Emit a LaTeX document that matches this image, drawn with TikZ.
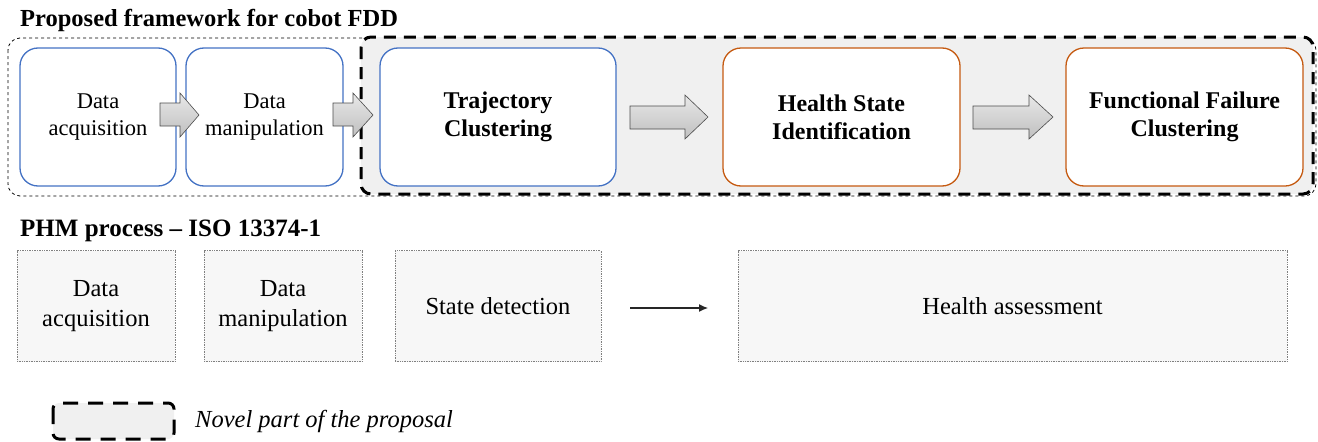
\documentclass[tikz,border=0pt]{standalone}
\usepackage{fontspec}
\setmainfont{Liberation Serif}
\usetikzlibrary{arrows.meta}
\definecolor{boxblue}{HTML}{4472C4}
\definecolor{boxorange}{HTML}{C55A11}
\definecolor{novelgray}{HTML}{F0F0F0}
\definecolor{phmgray}{HTML}{F7F7F7}
\tikzset{
  topbox/.style={draw=#1, line width=1.3pt, fill=white, rounded corners=18pt, align=center},
  normtxt/.style={font=\fontsize{22.5}{27}\selectfont},
  boldtxt/.style={font=\fontsize{24}{28}\selectfont\bfseries},
  blockarrow/.style={draw=gray!60!black, line width=0.6pt, top color=gray!18, bottom color=gray!50},
  phmbox/.style={draw=gray, densely dotted, line width=0.7pt, fill=phmgray, align=center, font=\fontsize{24.5}{30}\selectfont},
  novel/.style={draw=black, line width=3pt, dash pattern=on 12pt off 8pt, fill=novelgray, rounded corners=10pt},
}
\begin{document}
\begin{tikzpicture}[x=1pt,y=-1pt]
\useasboundingbox (0,0) rectangle (1318,442);
% title
\node[anchor=west, font=\fontsize{24.5}{28}\selectfont\bfseries, inner sep=0pt] (title) at (20,20) {Proposed framework for cobot FDD};
% thin dashed frame
\draw[dashed, line width=0.8pt, rounded corners=12pt] (8,38) rectangle (1316,196);
% novel region
\draw[novel] (361,37) rectangle (1313,194);
% top boxes
\node[topbox=boxblue, normtxt, minimum width=156pt, minimum height=138pt] (da) at (98,117) {Data\\acquisition};
\node[topbox=boxblue, normtxt, minimum width=157pt, minimum height=138pt] (dm) at (264.5,117) {Data\\manipulation};
\node[topbox=boxblue, boldtxt, minimum width=236pt, minimum height=138pt] (tc) at (498,117) {Trajectory\\Clustering};
\node[topbox=boxorange, boldtxt, minimum width=237pt, minimum height=138pt] (hs) at (841.5,117) {Health State\\Identification};
\node[topbox=boxorange, boldtxt, minimum width=237pt, minimum height=138pt] (ff) at (1184.5,117) {Functional Failure\\Clustering};
% block arrows
\draw[blockarrow] (160,103) -- (180,103) -- (180,93) -- (199,115) -- (180,137) -- (180,126) -- (160,126) -- cycle;
\draw[blockarrow] (333,103) -- (353,103) -- (353,93) -- (373,115) -- (353,137) -- (353,126) -- (333,126) -- cycle;
\draw[blockarrow] (630,106) -- (685,106) -- (685,95) -- (708,117) -- (685,139) -- (685,129) -- (630,129) -- cycle;
\draw[blockarrow] (973,106) -- (1029,106) -- (1029,95) -- (1053,117) -- (1029,139) -- (1029,129) -- (973,129) -- cycle;
% PHM
\node[anchor=west, font=\fontsize{25}{29}\selectfont\bfseries, inner sep=0pt] (phm) at (20,231) {PHM process -- ISO 13374-1};
\node[phmbox, minimum width=158pt, minimum height=111pt] (p1) at (96,306) {Data\\acquisition};
\node[phmbox, minimum width=158pt, minimum height=111pt] (p2) at (283,306) {Data\\manipulation};
\node[phmbox, minimum width=206pt, minimum height=111pt] (p3) at (498,306) {State detection};
\node[phmbox, minimum width=549pt, minimum height=111pt] (p4) at (1012.5,306) {Health assessment};
\coordinate (s) at (630,308);
\coordinate (e) at (708,308);
\draw[-{Latex[length=9pt,width=8pt]}, line width=1.2pt, draw=black!85] (s) -- (e);
% legend
\draw[novel, rounded corners=6pt, dash pattern=on 15pt off 10pt] (53,403) rectangle (174,439);
\node[anchor=west, font=\fontsize{24.5}{28}\selectfont\itshape, inner sep=0pt] (leg) at (195,421) {Novel part of the proposal};
\end{tikzpicture}
\end{document}
